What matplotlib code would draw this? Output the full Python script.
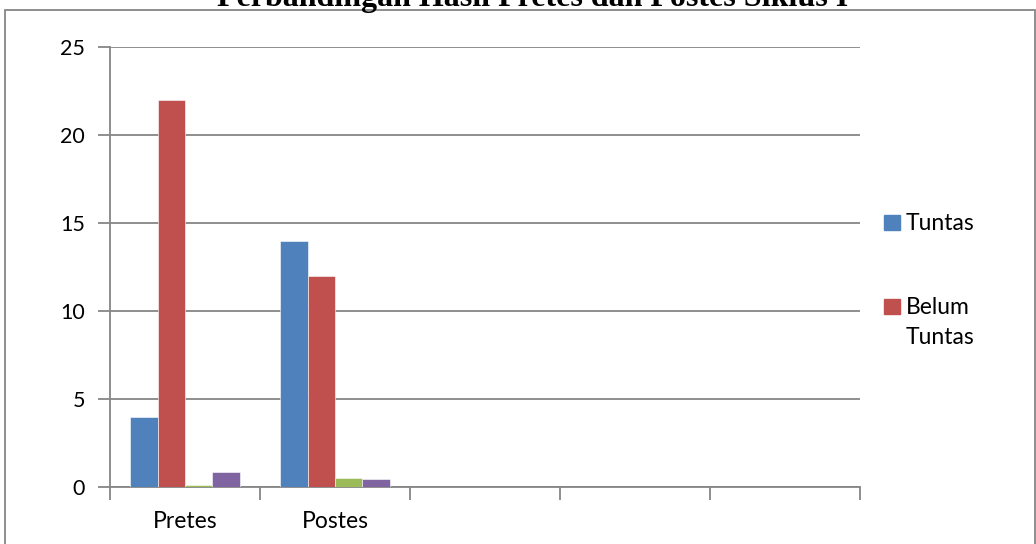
import numpy as np
import matplotlib.pyplot as plt
from matplotlib.patches import Rectangle

categories = ['Pretes', 'Postes', '', '', '']
tuntas = [4, 14, 0, 0, 0]
belum_tuntas = [22, 12, 0, 0, 0]
seri3 = [0.12, 0.5, 0, 0, 0]
seri4 = [0.85, 0.45, 0, 0, 0]

series = [tuntas, belum_tuntas, seri3, seri4]
legend_labels = ['Tuntas', 'Belum\nTuntas']
colors = ['#4F81BD', '#C0504D', '#9BBB59', '#8064A2']
W, H = 1036, 544

fig = plt.figure(figsize=[W/100, H/100], dpi=100)
ax = fig.add_axes([110/W, 1 - 487/H, 750/W, 440/H])

x = np.arange(len(categories))
w = 0.1833
for i, (vals, c) in enumerate(zip(series, colors)):
    ax.bar(x - 1.5*w + i*w, vals, w, color=c, edgecolor='white', linewidth=0.4, zorder=3)

ax.set_xlim(-0.5, len(categories) - 0.5)
ax.set_ylim(0, 25)
ax.set_yticks([0, 5, 10, 15, 20, 25])
ax.set_xticks(x)
ax.set_xticklabels(categories)
ax.set_xticks(np.arange(len(categories) + 1) - 0.5, minor=True)
ax.tick_params(axis='x', which='major', length=0, pad=17, labelsize=16.5)
ax.tick_params(axis='x', which='minor', length=9, width=1.3, color='#868686', direction='out')
ax.tick_params(axis='y', length=9, width=1.3, color='#868686', labelsize=15.5, pad=9)
for lbl in ax.get_xticklabels() + ax.get_yticklabels():
    lbl.set_family('Lato')

ax.grid(axis='y', color='#868686', linewidth=1.3, zorder=0)
for s in ['top', 'right']:
    ax.spines[s].set_visible(False)
for s in ['left', 'bottom']:
    ax.spines[s].set_color('#868686')
    ax.spines[s].set_linewidth(1.3)

# legend (only the two named series), drawn like the spreadsheet legend
for c, lab, top in zip(colors[:2], legend_labels, [215, 299]):
    fig.patches.append(Rectangle((884/W, 1 - (top + 15)/H), 16/W, 15/H,
                                 transform=fig.transFigure, color=c))
    for k, line in enumerate(lab.split('\n')):
        fig.text(906/W, 1 - (top + 15 + 30*k)/H, line, ha='left', va='baseline',
                 family='Lato', fontsize=16.5)

fig.text(533/W, 1 - 6/H, 'Perbandingan Hasil Pretes dan Postes Siklus I',
         ha='center', va='baseline', family='Liberation Serif', weight='bold', fontsize=23)

fig.patches.append(Rectangle((5/W, -0.01), 1030/W, 1 - 10/H + 0.01,
                             transform=fig.transFigure, fill=False,
                             edgecolor='#868686', linewidth=1.3))

plt.savefig('out.png', dpi=100)
